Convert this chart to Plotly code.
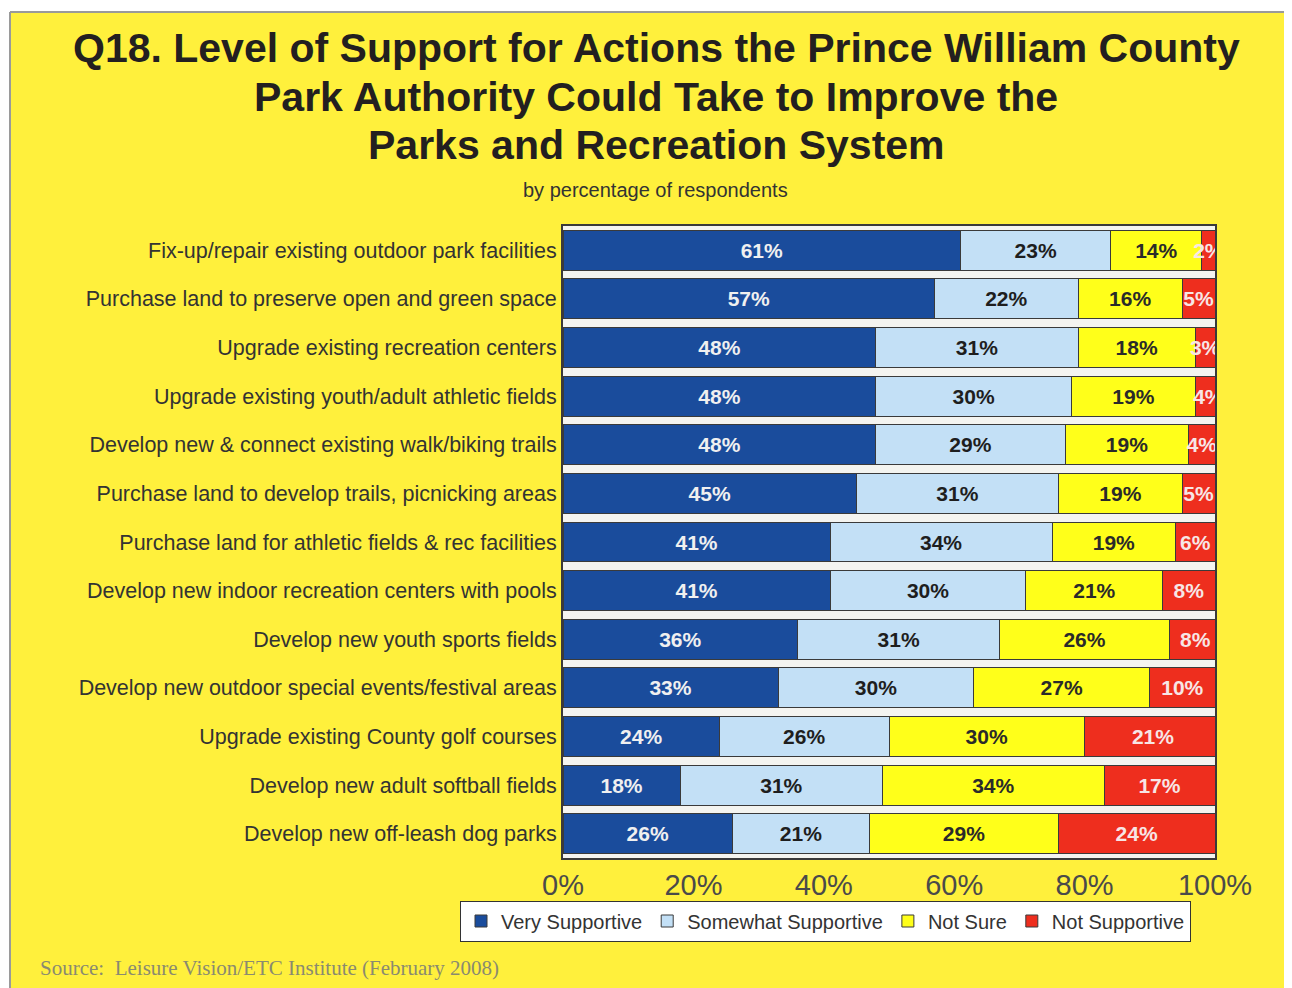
import plotly.graph_objects as go

categories = [
    "Fix-up/repair existing outdoor park facilities",
    "Purchase land to preserve open and green space",
    "Upgrade existing recreation centers",
    "Upgrade existing youth/adult athletic fields",
    "Develop new & connect existing walk/biking trails",
    "Purchase land to develop trails, picnicking areas",
    "Purchase land for athletic fields & rec facilities",
    "Develop new indoor recreation centers with pools",
    "Develop new youth sports fields",
    "Develop new outdoor special events/festival areas",
    "Upgrade existing County golf courses",
    "Develop new adult softball fields",
    "Develop new off-leash dog parks",
]
very_supportive = [61, 57, 48, 48, 48, 45, 41, 41, 36, 33, 24, 18, 26]
somewhat_supportive = [23, 22, 31, 30, 29, 31, 34, 30, 31, 30, 26, 31, 21]
not_sure = [14, 16, 18, 19, 19, 19, 19, 21, 26, 27, 30, 34, 29]
not_supportive = [2, 5, 3, 4, 4, 5, 6, 8, 8, 10, 21, 17, 24]
series_names = ["Very Supportive", "Somewhat Supportive", "Not Sure", "Not Supportive"]
tick_vals = [0, 20, 40, 60, 80, 100]
tick_text = ["0%", "20%", "40%", "60%", "80%", "100%"]
title_lines = [
    "Q18. Level of Support for Actions the Prince William County",
    "Park Authority Could Take to Improve the",
    "Parks and Recreation System",
]
subtitle = "by percentage of respondents"
source = "Source:  Leisure Vision/ETC Institute (February 2008)"

colors = ["#1a4c9c", "#c3e0f6", "#ffff1a", "#ee2e1e"]
text_colors = ["#f0f0f0", "#1e1e1e", "#2a2a2a", "#f7e6e6"]

fig = go.Figure()
for name, vals, c, tc in zip(series_names,
                             [very_supportive, somewhat_supportive, not_sure, not_supportive],
                             colors, text_colors):
    fig.add_trace(go.Bar(
        y=categories, x=vals, name=name, orientation="h",
        marker=dict(color=c, line=dict(color="#3a3a3a", width=1)),
        text=[f"<b>{v}%</b>" for v in vals], textposition="inside",
        insidetextanchor="middle", textangle=0,
        textfont=dict(family="Arial, Liberation Sans", size=21, color=tc),
        cliponaxis=True,
    ))

# page is drawn with an 8px body margin; screen coords -> figure coords
OFF = 8
W, H = 1292, 988
SL, SR, ST, SB = 563, 1215, 226, 858   # plot area in screen pixels
L, T = SL - OFF, ST - OFF
R, B = W - (SR - OFF), H - (SB - OFF)
pw, ph = W - L - R, H - T - B

def px_x(x):
    return (x - OFF - L) / pw

def px_y(y):
    return (H - B - (y - OFF)) / ph

fig.update_layout(
    width=W, height=H,
    barmode="stack", bargap=0.18,
    paper_bgcolor="#fff03c", plot_bgcolor="#f4f4f0",
    margin=dict(l=L, r=R, t=T, b=B, autoexpand=False),
    uniformtext=dict(minsize=21, mode="show"),
    font=dict(family="Arial, Liberation Sans", color="#333333"),
    legend=dict(
        orientation="h", x=px_x(460), xanchor="left", y=px_y(921), yanchor="middle",
        bgcolor="#ffffff", bordercolor="#333333", borderwidth=1,
        font=dict(size=20, color="#333333"), traceorder="normal",
        itemwidth=30, tracegroupgap=0,
    ),
    xaxis=dict(
        range=[0, 100], tickvals=tick_vals, ticktext=tick_text,
        showgrid=False, zeroline=False, automargin=False,
        showline=True, mirror=True, linecolor="#3a3a3a", linewidth=2,
        tickfont=dict(size=29, color="#4a4a4a"), ticks="",
    ),
    yaxis=dict(
        autorange="reversed", showgrid=False, automargin=False,
        showline=True, mirror=True, linecolor="#3a3a3a", linewidth=2,
        tickfont=dict(size=21.5, color="#333333"), ticks="",
    ),
    showlegend=True,
)

for line, ypix in zip(title_lines, [48, 97, 145]):
    fig.add_annotation(
        text=f"<b>{line}</b>", xref="paper", yref="paper",
        x=px_x(656), y=px_y(ypix), xanchor="center", yanchor="middle",
        showarrow=False, font=dict(family="Arial, Liberation Sans", size=41, color="#231f20"),
    )
fig.add_annotation(
    text=subtitle, xref="paper", yref="paper",
    x=px_x(655), y=px_y(190), xanchor="center", yanchor="middle",
    showarrow=False, font=dict(family="Arial, Liberation Sans", size=20, color="#333333"),
)
fig.add_annotation(
    text=source, xref="paper", yref="paper",
    x=px_x(38), y=px_y(968), xanchor="left", yanchor="middle",
    showarrow=False, font=dict(family="Liberation Serif, Times New Roman", size=21, color="#8a8a70"),
)
# white page edges and grey frame lines
fig.add_shape(type="rect", xref="paper", yref="paper", x0=px_x(0), x1=px_x(W + OFF), y0=px_y(0), y1=px_y(12),
              fillcolor="#ffffff", line=dict(width=0), layer="below")
fig.add_shape(type="rect", xref="paper", yref="paper", x0=px_x(0), x1=px_x(10), y0=px_y(0), y1=px_y(H + OFF),
              fillcolor="#ffffff", line=dict(width=0), layer="below")
fig.add_shape(type="line", xref="paper", yref="paper", x0=px_x(10), x1=px_x(W + OFF), y0=px_y(12), y1=px_y(12),
              line=dict(color="#9a9a9a", width=2))
fig.add_shape(type="line", xref="paper", yref="paper", x0=px_x(10), x1=px_x(10), y0=px_y(12), y1=px_y(H + OFF),
              line=dict(color="#9a9a9a", width=2))

fig.write_html("out.html")
